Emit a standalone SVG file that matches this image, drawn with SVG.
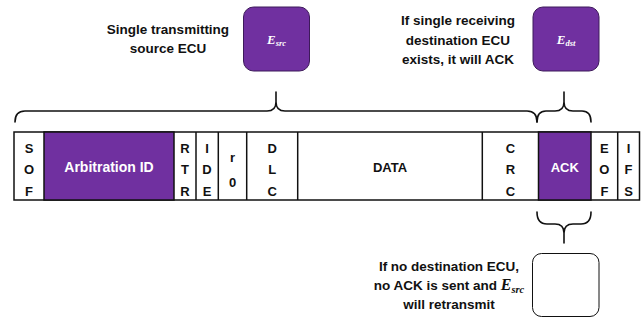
<svg xmlns="http://www.w3.org/2000/svg" width="644" height="320" viewBox="0 0 644 320">
<style>
.t{font-family:"Liberation Sans",Arial,sans-serif;font-weight:bold;fill:#111;text-anchor:middle}
.h{font-size:13.5px}
.c{font-size:13px}
.w{fill:#fff}
.m{font-family:"Liberation Serif","DejaVu Serif",serif;font-style:italic;font-weight:bold}
.cell{stroke:#111;stroke-width:1.5}
.brace{fill:none;stroke:#111;stroke-width:1.6;stroke-linecap:round;stroke-linejoin:round}
.pbox{fill:#7030A0;stroke:#3d1a5a;stroke-width:1}
</style>
<rect width="644" height="320" fill="#fff"/>

<g id="label-src">
<text class="t h" x="168" y="33.5">Single transmitting</text>
<text class="t h" x="168" y="52.5">source ECU</text>
</g>
<g id="node-esrc">
<rect class="pbox" x="243.5" y="7" width="66" height="64" rx="10"/>
<text class="m w" x="276.5" y="44" text-anchor="middle" font-size="13"><tspan>E</tspan><tspan font-size="8.5" dy="2">src</tspan></text>
</g>

<g id="label-dst">
<text class="t h" x="458" y="25">If single receiving</text>
<text class="t h" x="458" y="44.5">destination ECU</text>
<text class="t h" x="458" y="63.5">exists, it will ACK</text>
</g>
<g id="node-edst">
<rect class="pbox" x="533" y="7" width="66" height="64" rx="10"/>
<text class="m w" x="566" y="44" text-anchor="middle" font-size="13"><tspan>E</tspan><tspan font-size="8.5" dy="2">dst</tspan></text>
</g>

<g id="frame">
<rect x="14" y="132" width="625.5" height="68" fill="#fff" class="cell"/>
<rect x="44" y="132" width="130" height="68" fill="#7030A0" class="cell"/>
<rect x="538.5" y="132" width="52.5" height="68" fill="#7030A0" class="cell"/>
<g class="cell">
<line x1="196" y1="132" x2="196" y2="200"/>
<line x1="218.3" y1="132" x2="218.3" y2="200"/>
<line x1="246.7" y1="132" x2="246.7" y2="200"/>
<line x1="297.7" y1="132" x2="297.7" y2="200"/>
<line x1="482.3" y1="132" x2="482.3" y2="200"/>
<line x1="617.7" y1="132" x2="617.7" y2="200"/>
</g>
<g id="field-sof"><text class="t c" x="29" y="152.5">S</text><text class="t c" x="29" y="173.5">O</text><text class="t c" x="29" y="195.5">F</text></g>
<g id="field-arb"><text class="t w" font-size="14" x="109" y="172">Arbitration ID</text></g>
<g id="field-rtr"><text class="t c" x="185" y="152.5">R</text><text class="t c" x="185" y="173.5">T</text><text class="t c" x="185" y="195.5">R</text></g>
<g id="field-ide"><text class="t c" x="207" y="152.5">I</text><text class="t c" x="207" y="173.5">D</text><text class="t c" x="207" y="195.5">E</text></g>
<g id="field-r0"><text class="t c" x="232.5" y="162">r</text><text class="t c" x="232.5" y="186.5">0</text></g>
<g id="field-dlc"><text class="t c" x="272.2" y="152.5">D</text><text class="t c" x="272.2" y="173.5">L</text><text class="t c" x="272.2" y="195.5">C</text></g>
<g id="field-data"><text class="t c" x="390" y="172">DATA</text></g>
<g id="field-crc"><text class="t c" x="510.4" y="152.5">C</text><text class="t c" x="510.4" y="173.5">R</text><text class="t c" x="510.4" y="195.5">C</text></g>
<g id="field-ack"><text class="t c w" x="564.8" y="172">ACK</text></g>
<g id="field-eof"><text class="t c" x="604.4" y="152.5">E</text><text class="t c" x="604.4" y="173.5">O</text><text class="t c" x="604.4" y="195.5">F</text></g>
<g id="field-ifs"><text class="t c" x="628.6" y="152.5">I</text><text class="t c" x="628.6" y="173.5">F</text><text class="t c" x="628.6" y="195.5">S</text></g>
</g>

<g id="connectors">
<path class="brace" d="M15 122 Q15 111 25 111 L267 111 Q276 111 276 102 L276 92 M276 102 Q276 111 285 111 L527 111 Q537 111 537 122"/>
<path class="brace" d="M537 122 Q537 111 546 111 L555 111 Q564 111 564 102 L564 92 M564 102 Q564 111 573 111 L582 111 Q591 111 591 122"/>
<path class="brace" d="M537 212 Q537 224 547 224 L555 224 Q564 224 564 233 L564 243 M564 233 Q564 224 573 224 L581 224 Q591 224 591 212"/>
</g>

<g id="node-none">
<rect x="532.5" y="253.5" width="66.5" height="63" rx="9" fill="#fff" stroke="#111" stroke-width="1"/>
</g>
<g id="label-none">
<text class="t h" x="449" y="271">If no destination ECU,</text>
<text class="t h" x="449" y="290">no ACK is sent and <tspan class="m" font-size="16">E</tspan><tspan class="m" font-size="10.5" dy="2.5">src</tspan></text>
<text class="t h" x="449" y="309">will retransmit</text>
</g>
</svg>
